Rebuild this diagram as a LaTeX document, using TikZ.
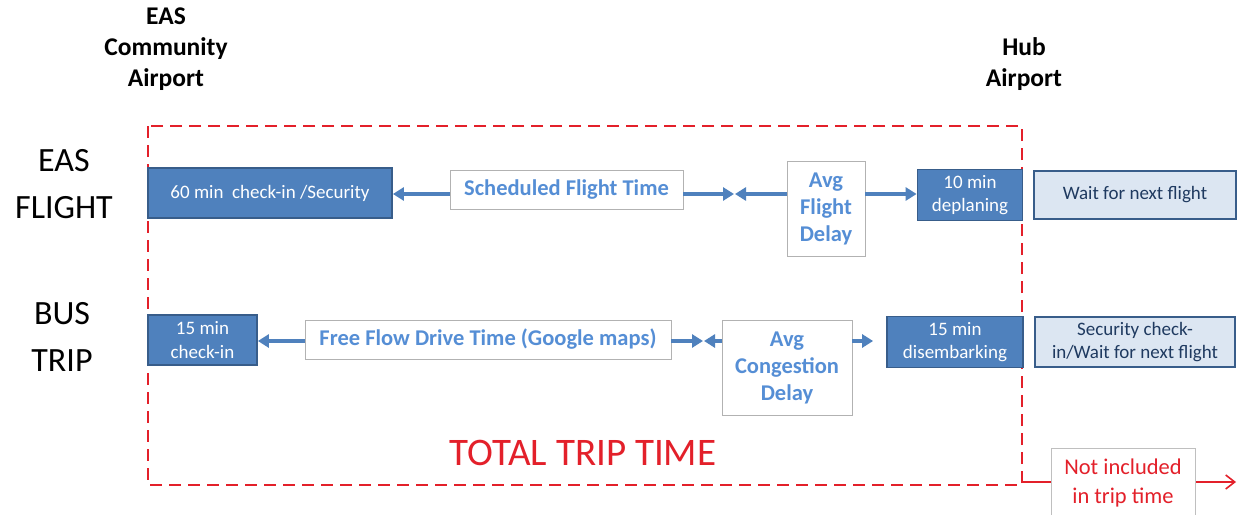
\documentclass[tikz,border=0pt]{standalone}
\usepackage{fontspec}
\setmainfont{Carlito}
\usetikzlibrary{arrows.meta}
\definecolor{dkblue}{HTML}{4F81BD}
\definecolor{dkborder}{HTML}{385D8A}
\definecolor{ltfill}{HTML}{DCE6F2}
\definecolor{navy}{HTML}{1F3A60}
\definecolor{txtblue}{HTML}{558ED5}
\definecolor{myred}{HTML}{E3202A}
\tikzset{
  darkbox/.style={draw=dkborder, line width=1.8pt, fill=dkblue, text=white, inner sep=0pt, align=center, font=\fontsize{19}{23.5}\selectfont},
  lightbox/.style={draw=dkborder, line width=1.6pt, fill=ltfill, text=navy, inner sep=0pt, align=center, font=\fontsize{19}{22.5}\selectfont},
  whitebox/.style={draw=gray!60, line width=0.8pt, fill=white, text=txtblue, inner sep=0pt, align=center, font=\bfseries\fontsize{22.5}{27}\selectfont},
  conn/.style={draw=dkblue, line width=3.5pt, -{Triangle[length=11pt,width=13pt]}},
  rowlabel/.style={font=\fontsize{34}{47}\selectfont, align=center},
  airport/.style={font=\bfseries\fontsize{25.5}{31}\selectfont, align=center}
}
\begin{document}
\begin{tikzpicture}[x=1pt,y=-1pt]
\clip (0,0) rectangle (1238,514);
\fill[white] (0,0) rectangle (1238,514);
% labels
\node[airport] (eas) at (166,49) {EAS\\Community\\Airport};
\node[airport] (hub) at (1024,64) {Hub\\Airport};
\node[rowlabel] (flight) at (64,184) {EAS\\FLIGHT};
\node[rowlabel] (bus) at (62,337) {BUS\\TRIP};
% dashed total box
\draw[myred, line width=2.8pt, dash pattern=on 12pt off 7pt] (148,126) rectangle (1022,485);
\node[text=myred, font=\fontsize{39}{44}\selectfont] (total) at (583,453) {TOTAL TRIP TIME};
% flight row
\node[darkbox, minimum width=244pt, minimum height=50pt] (check) at (270,193) {60 min~ check-in /Security};
\node[whitebox, minimum width=233pt, minimum height=39pt] (sched) at (566.5,189.5) {Scheduled Flight Time};
\node[whitebox, minimum width=78pt, minimum height=95pt] (afd) at (826,208.5) {Avg\\Flight\\Delay};
\node[darkbox, minimum width=105pt, minimum height=51pt] (depl) at (970,195) {10 min\\deplaning};
\node[lightbox, minimum width=202pt, minimum height=48pt] (wait) at (1135,195) {Wait for next flight};
\coordinate (fm1) at (734,194);
\coordinate (fm2) at (735,194);
\draw[conn] (sched.west |- 0,194) -- (check.east |- 0,194);
\draw[conn] (sched.east |- 0,194) -- (fm1);
\draw[conn] (afd.west |- 0,194) -- (fm2);
\draw[conn] (afd.east |- 0,194) -- (depl.west |- 0,194);
% bus row
\node[darkbox, minimum width=109pt, minimum height=50pt] (bcheck) at (202.5,340) {15 min\\check-in};
\node[whitebox, minimum width=366pt, minimum height=39pt] (ffd) at (488,339.5) {Free Flow Drive Time (Google maps)};
\node[whitebox, minimum width=130pt, minimum height=95pt] (acd) at (787,367.5) {Avg\\Congestion\\Delay};
\node[darkbox, minimum width=136pt, minimum height=51pt] (disemb) at (955,342) {15 min\\disembarking};
\node[lightbox, minimum width=200pt, minimum height=50pt] (sec) at (1135,342) {Security check-\\in/Wait for next flight};
\coordinate (bm1) at (703,341);
\coordinate (bm2) at (704,341);
\draw[conn] (ffd.west |- 0,341) -- (bcheck.east |- 0,341);
\draw[conn] (ffd.east |- 0,341) -- (bm1);
\draw[conn] (acd.west |- 0,341) -- (bm2);
\draw[conn, shorten >=13pt] (acd.east |- 0,341) -- (disemb.west |- 0,341);
% not included
\coordinate (nstart) at (1022,482);
\coordinate (nend) at (1236,482);
\draw[myred, line width=1.6pt, -{Straight Barb[length=9pt,width=14pt]}] (nstart) -- (nend);
\node[draw=gray!50, line width=0.8pt, fill=white, inner sep=0pt, minimum width=144pt, minimum height=72pt, anchor=north] (notinc) at (1123,448) {};
\node[text=myred, align=center, font=\fontsize{22.5}{29}\selectfont] (notinctext) at (1123,483) {Not included\\in trip time};
\end{tikzpicture}
\end{document}
